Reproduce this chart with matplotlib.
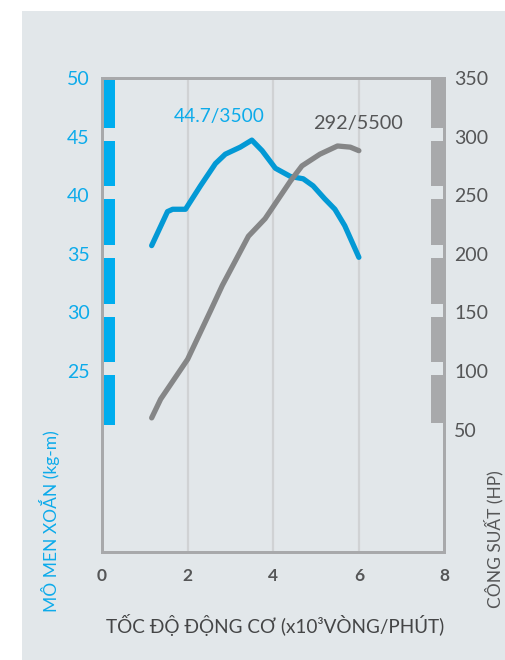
import matplotlib
matplotlib.use("Agg")
import matplotlib.pyplot as plt
from matplotlib.patches import Rectangle

# ---- data ----
rpm_torque = [1.16, 1.53, 1.65, 1.95, 2.3, 2.65, 2.88, 3.23, 3.5, 3.74, 4.05, 4.4, 4.7, 4.93, 5.2, 5.44, 5.67, 6.0]
torque = [35.7, 38.6, 38.8, 38.8, 40.8, 42.7, 43.5, 44.1, 44.7, 43.8, 42.3, 41.6, 41.4, 40.8, 39.7, 38.8, 37.4, 34.7]
rpm_power = [1.16, 1.37, 2.0, 2.53, 2.81, 3.42, 3.81, 4.16, 4.4, 4.67, 5.09, 5.5, 5.8, 6.0]
power = [60, 76, 110, 151, 173, 215, 230, 249, 262, 275, 285, 292, 291, 288]
x_ticks = [0, 2, 4, 6, 8]
torque_ticks = [25, 30, 35, 40, 45, 50]
power_ticks = [50, 100, 150, 200, 250, 300, 350]
torque_label = "44.7/3500"
power_label = "292/5500"

BG = "#E2E7EA"
FRAME = "#A8A9AB"
BLUE_LINE = "#0399D5"
BLUE_TXT = "#0DABEA"
BLUE_BAR = "#00ADEE"
GRAY_LINE = "#858687"
DARK = "#555657"
FONT = ["Lato", "DejaVu Sans"]

fig = plt.figure(figsize=(5.05, 6.6), dpi=100)
fig.patch.set_facecolor("white")
fig.patches.append(Rectangle((22 / 505, 0), 1, 1 - 11 / 660, transform=fig.transFigure,
                             facecolor=BG, edgecolor="none", zorder=-10))

L, R, T, B = 102 / 505, 444.5 / 505, 1 - 78 / 660, 1 - 551.5 / 660
ax = fig.add_axes([L, B, R - L, T - B])
ax.set_facecolor(BG)
ax2 = ax.twinx()

ax.set_xlim(0, 8)
ax.set_ylim(9.6, 50)
ax2.set_ylim(-54, 350)

# vertical grid
for xv in [2, 4, 6]:
    ax.axvline(xv, color="#D0D2D4", lw=1.6, zorder=1)

# blue segmented bar (torque axis)
tr = ax.get_yaxis_transform()
bx0, bw = 0.0, 13 / 342.5
top = 50
for t in [45, 40, 35, 30, 25]:
    ax.add_patch(Rectangle((bx0, t + 0.75), bw, top - (t + 0.75), transform=tr,
                           facecolor=BLUE_BAR, edgecolor="none", zorder=2))
    top = t - 0.35
ax.add_patch(Rectangle((bx0, 20.4), bw, top - 20.4, transform=tr,
                       facecolor=BLUE_BAR, edgecolor="none", zorder=2))

# gray segmented bar (power axis)
tr2 = ax2.get_yaxis_transform()
gw = 13 / 342.5
top = 351
for p in [300, 250, 200, 150, 100]:
    ax2.add_patch(Rectangle((1 - gw, p + 7.5), gw, top - (p + 7.5), transform=tr2,
                            facecolor=FRAME, edgecolor="none", zorder=2))
    top = p - 3.5
ax2.add_patch(Rectangle((1 - gw, 56), gw, top - 56, transform=tr2,
                        facecolor=FRAME, edgecolor="none", zorder=2))

# lines
ax.plot(rpm_torque, torque, color=BLUE_LINE, lw=3.8, solid_capstyle="round",
        solid_joinstyle="round", zorder=5)
ax2.plot(rpm_power, power, color=GRAY_LINE, lw=3.8, solid_capstyle="round",
         solid_joinstyle="round", zorder=4)

# annotations
ax.text(2.74, 46.7, torque_label, color=BLUE_TXT, fontsize=13.8, ha="center", va="center",
        family=FONT, zorder=6)
ax2.text(5.98, 311.5, power_label, color=DARK, fontsize=14.3, ha="center", va="center",
         family=FONT, zorder=6)

# frame
for a in (ax, ax2):
    for s in a.spines.values():
        s.set_color(FRAME)
        s.set_linewidth(2.0)
ax2.set_zorder(ax.get_zorder() + 1)
ax2.patch.set_visible(False)

# ticks
ax.set_xticks(x_ticks)
ax.set_xticklabels([str(v) for v in x_ticks], color=DARK, fontsize=12.5,
                   fontweight="bold", family=FONT)
ax.tick_params(axis="x", length=0, pad=12)
ax.set_yticks(torque_ticks)
ax.set_yticklabels([str(v) for v in torque_ticks], color=BLUE_TXT, fontsize=14,
                   family=FONT)
ax.tick_params(axis="y", length=0, pad=9)
ax2.set_yticks(power_ticks)
ax2.set_yticklabels([str(v) for v in power_ticks], color=DARK, fontsize=14,
                    family=FONT)
ax2.tick_params(axis="y", length=0, pad=7)

# axis labels
fig.text(275 / 505, 1 - 625 / 660, "TỐC ĐỘ ĐỘNG CƠ (x10³VÒNG/PHÚT)", color="#444546",
         fontsize=13.6, ha="center", va="center", family=FONT)
fig.text(50 / 505, 1 - 521 / 660, "MÔ MEN XOẮN (kg-m)", color=BLUE_TXT, fontsize=12.5,
         ha="center", va="center", rotation=90, family=FONT)
fig.text(494 / 505, 1 - 539 / 660, "CÔNG SUẤT (HP)", color=DARK, fontsize=12.5,
         ha="center", va="center", rotation=90, family=FONT)

fig.savefig("out.png", dpi=100, facecolor=fig.get_facecolor())
